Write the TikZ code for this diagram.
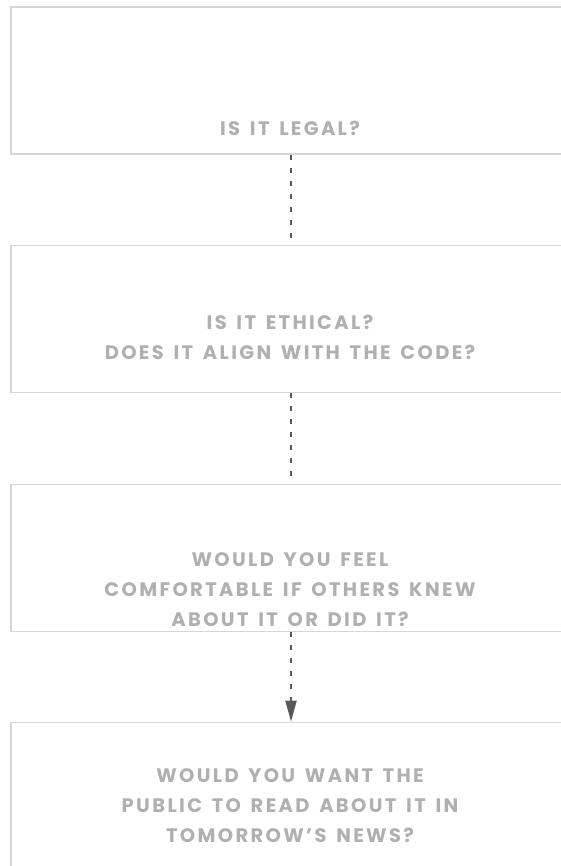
\documentclass[tikz,border=0pt]{standalone}
\usepackage{fontspec}
\newfontfamily\quizfont[LetterSpace=12, WordSpace=1.5]{Poppins}
\usetikzlibrary{arrows.meta}
\definecolor{boxline}{HTML}{D6D6D6}
\definecolor{asktext}{HTML}{B0B0B0}
\definecolor{linkline}{HTML}{595959}
\begin{document}
\begin{tikzpicture}[
    x=1pt, y=-1pt,
    qbox/.style={
        rectangle,
        draw=boxline,
        line width=1.6pt,
        minimum width=560pt,
        minimum height=147pt,
        inner sep=0pt,
    },
    qtext/.style={
        asktext,
        align=center,
        font=\quizfont\fontsize{19.5}{30}\selectfont\bfseries,
    },
    dotlink/.style={
        linkline,
        line width=2pt,
        dash pattern=on 5pt off 8pt,
    },
    dotarrow/.style={
        dotlink,
        -{Triangle[length=21pt, width=11pt]},
    },
]

% page
\useasboundingbox (0,0) rectangle (560,866);

% Boxes
\node[qbox] (legal) at (291,80.5) {};
\node[qbox] (ethical) at (291,319) {};
\node[qbox] (comfort) at (291,558) {};
\node[qbox] (public) at (291,796) {};

% Questions
\node[qtext] (legaltext) at (290,128) {IS IT LEGAL?};
\node[qtext] (ethicaltext) at (290,337) {IS IT ETHICAL?\\DOES IT ALIGN WITH THE CODE?};
\node[qtext] (comforttext) at (290,590) {WOULD YOU FEEL\\COMFORTABLE IF OTHERS KNEW\\ABOUT IT OR DID IT?};
\node[qtext] (publictext) at (290,806) {WOULD YOU WANT THE\\PUBLIC TO READ ABOUT IT IN\\TOMORROW’S NEWS?};

% Links
\draw[dotlink] (legal.south) -- (ethical.north);
\draw[dotlink] (ethical.south) -- (comfort.north);
\draw[dotarrow] (comfort.south) -- (public.north);

\end{tikzpicture}
\end{document}
